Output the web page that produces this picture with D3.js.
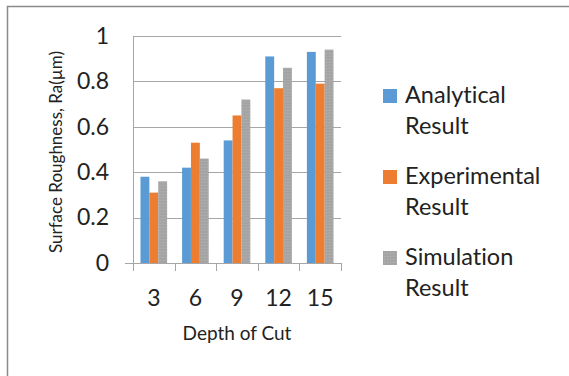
<!DOCTYPE html>
<html>
<head>
<meta charset="utf-8">
<script src="https://cdn.jsdelivr.net/npm/d3@7"></script>
<style>
  html, body { margin: 0; padding: 0; background: #fff; }
  svg { display: block; font-family: Lato, "Open Sans", sans-serif; font-variant-ligatures: none; font-feature-settings: "liga" 0, "clig" 0; }
</style>
</head>
<body>
<svg id="chart" width="569" height="376"></svg>
<script>
// Depth of cut levels and surface roughness Ra (µm) per method
const depths = ["3", "6", "9", "12", "15"];
const analytical = [0.38, 0.42, 0.54, 0.91, 0.93];
const experimental = [0.31, 0.53, 0.65, 0.77, 0.79];
const simulation = [0.36, 0.46, 0.72, 0.86, 0.94];
const seriesNames = ["Analytical Result", "Experimental Result", "Simulation Result"];
const seriesColors = ["#5B9BD5", "#ED7D31", "url(#grain)"];
const yTicks = [0, 0.2, 0.4, 0.6, 0.8, 1];

const seriesValues = [analytical, experimental, simulation];

const svg = d3.select("#chart");

// Fine grain fill for the simulation series
const pat = svg.append("defs").append("pattern")
  .attr("id", "grain").attr("patternUnits", "userSpaceOnUse")
  .attr("width", 3).attr("height", 3);
pat.append("rect").attr("width", 3).attr("height", 3).attr("fill", "#a7a7a7");
pat.append("rect").attr("x", 0).attr("y", 0).attr("width", 1).attr("height", 1).attr("fill", "#9d9d9d");
pat.append("rect").attr("x", 2).attr("y", 1).attr("width", 1).attr("height", 1).attr("fill", "#a0a0a0");
pat.append("rect").attr("x", 1).attr("y", 2).attr("width", 1).attr("height", 1).attr("fill", "#b0b0b0");

// Outer chart frame
svg.append("rect")
  .attr("x", 7.5).attr("y", 6.5)
  .attr("width", 600).attr("height", 400)
  .attr("fill", "none").attr("stroke", "#8a8a8a").attr("stroke-width", 1.5);

const plot = { left: 133, right: 341, top: 36, bottom: 263 };

const x = d3.scaleBand().domain(depths).range([plot.left, plot.right]).paddingInner(0.36).paddingOuter(0.18);
const x1 = d3.scaleBand().domain(d3.range(3)).range([0, x.bandwidth()]);
const y = d3.scaleLinear().domain([0, 1]).range([plot.bottom, plot.top]);

// Horizontal gridlines
svg.append("g")
  .selectAll("line")
  .data(yTicks.filter(d => d > 0))
  .join("line")
  .attr("x1", plot.left).attr("x2", plot.right)
  .attr("y1", d => Math.round(y(d)) + 0.5).attr("y2", d => Math.round(y(d)) + 0.5)
  .attr("stroke", "#a6a6a6").attr("stroke-width", 1);

// Bars
const groups = svg.append("g")
  .selectAll("g")
  .data(depths)
  .join("g")
  .attr("transform", d => `translate(${x(d)},0)`);

groups.selectAll("rect")
  .data((d, i) => seriesValues.map((vals, s) => ({ s, v: vals[i] })))
  .join("rect")
  .attr("x", d => x1(d.s))
  .attr("width", x1.bandwidth())
  .attr("y", d => y(d.v))
  .attr("height", d => y(0) - y(d.v))
  .attr("fill", d => seriesColors[d.s]);

// Y axis
const yAxis = svg.append("g")
  .attr("transform", `translate(${plot.left},0)`)
  .call(d3.axisLeft(y).tickValues(yTicks).tickFormat(d3.format("~g")).tickSize(0).tickPadding(24));
yAxis.select(".domain").attr("stroke", "#a6a6a6");
yAxis.selectAll("text").attr("font-size", 23).attr("fill", "#222").attr("font-family", "Lato, sans-serif");

// X axis with category separators
const xAxisG = svg.append("g").attr("transform", `translate(0,${plot.bottom})`);
xAxisG.append("line")
  .attr("x1", plot.left - 8).attr("x2", plot.right)
  .attr("y1", 0.5).attr("y2", 0.5)
  .attr("stroke", "#a6a6a6");
xAxisG.selectAll("line.sep")
  .data(d3.range(depths.length + 1))
  .join("line")
  .attr("class", "sep")
  .attr("x1", i => Math.round(plot.left + i * (plot.right - plot.left) / depths.length) + 0.5)
  .attr("x2", i => Math.round(plot.left + i * (plot.right - plot.left) / depths.length) + 0.5)
  .attr("y1", 0).attr("y2", 8)
  .attr("stroke", "#a6a6a6");
xAxisG.selectAll("text")
  .data(depths)
  .join("text")
  .attr("x", d => x(d) + x.bandwidth() / 2)
  .attr("y", 43)
  .attr("text-anchor", "middle")
  .attr("font-size", 23).attr("fill", "#222")
  .text(d => d);

// Axis titles
svg.append("text")
  .attr("x", 237).attr("y", 340)
  .attr("text-anchor", "middle")
  .attr("font-size", 19).attr("fill", "#222")
  .text("Depth of Cut");

svg.append("text")
  .attr("transform", "translate(62,152) rotate(-90)")
  .attr("text-anchor", "middle")
  .attr("font-size", 17).attr("fill", "#222")
  .text("Surface Roughness, Ra(µm)");

// Legend
const legend = svg.append("g")
  .selectAll("g")
  .data(seriesNames)
  .join("g")
  .attr("transform", (d, i) => `translate(383,${89 + i * 81})`);
legend.append("rect")
  .attr("width", 14).attr("height", 14)
  .attr("fill", (d, i) => seriesColors[i]);
legend.append("text")
  .attr("x", 22).attr("y", 14)
  .attr("font-size", 23.5).attr("fill", "#222")
  .selectAll("tspan")
  .data(d => { const p = d.split(" "); return [p[0], p.slice(1).join(" ")]; })
  .join("tspan")
  .attr("x", 22)
  .attr("dy", (d, i) => i === 0 ? 0 : 31)
  .text(d => d);
</script>
</body>
</html>
